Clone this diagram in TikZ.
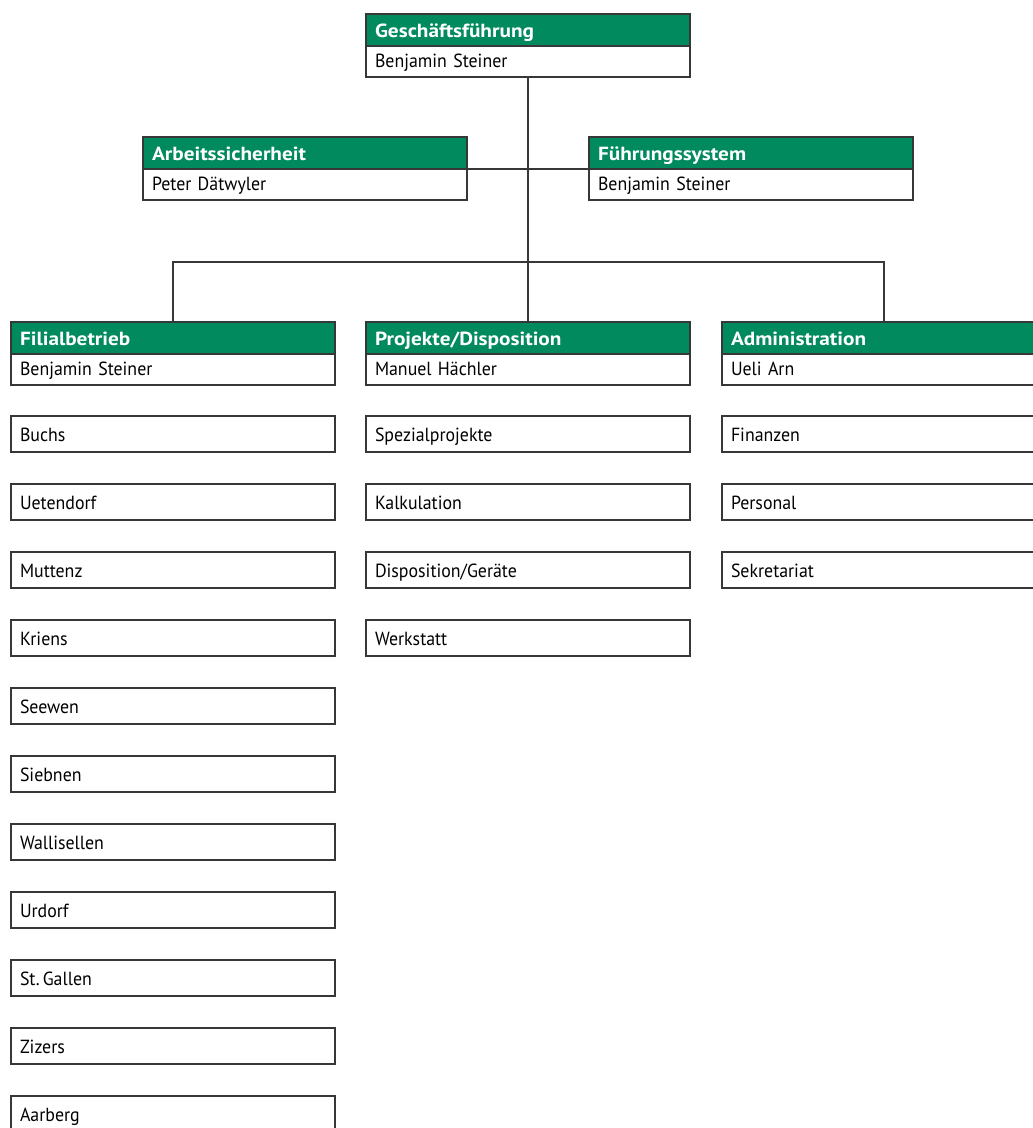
\documentclass[tikz,border=0pt]{standalone}
\usepackage{fontspec}
\setmainfont{PT Sans}[FakeStretch=0.94, BoldFeatures={FakeStretch=1.12}]
\usetikzlibrary{positioning}

\definecolor{orggreen}{RGB}{0,138,94}
\definecolor{orgline}{RGB}{55,55,55}

\tikzset{
  box/.style={draw=orgline, line width=1.2pt, outer sep=0pt, anchor=north west,
    minimum width=324pt, text width=306pt, inner xsep=9pt, inner ysep=0pt, align=left,
    font=\fontsize{19}{22}\selectfont},
  head/.style={box, fill=orggreen, text=white, font=\bfseries\fontsize{19}{22}\selectfont,
    minimum height=32pt, text height=17pt, text depth=3pt},
  person/.style={box, fill=white, anchor=north, minimum height=31pt, text height=15pt, text depth=4pt},
  unit/.style={box, fill=white, minimum height=36pt, text height=17pt, text depth=3pt},
  conn/.style={draw=orgline, line width=1.1pt},
}

\begin{document}
\begin{tikzpicture}[x=1pt,y=1pt]
    \clip (0,0) rectangle (1033,-1128);
    \fill[white] (0,0) rectangle (1033,-1128);

    % management
    \node[head] (gfhead) at (366,-14) {Geschäftsführung};
    \node[person, below=0pt of gfhead] (gfname) {Benjamin Steiner};

    % staff units
    \node[head] (ashead) at (143,-137) {Arbeitssicherheit};
    \node[person, below=0pt of ashead] (asname) {Peter Dätwyler};
    \node[head] (fshead) at (589,-137) {Führungssystem};
    \node[person, below=0pt of fshead] (fsname) {Benjamin Steiner};

    % departments
    \node[head] (filhead) at (11,-322) {Filialbetrieb};
    \node[person, below=0pt of filhead] (filname) {Benjamin Steiner};
    \node[head] (projhead) at (366,-322) {Projekte/Disposition};
    \node[person, below=0pt of projhead] (projname) {Manuel Hächler};
    \node[head] (admhead) at (722,-322) {Administration};
    \node[person, below=0pt of admhead] (admname) {Ueli Arn};

    % sub units
    \foreach \unitname [count=\i from 0] in {Buchs, Uetendorf, Muttenz, Kriens, Seewen,
        Siebnen, Wallisellen, Urdorf, St.\,Gallen, Zizers, Aarberg}
      \node[unit] (fil-\i) at (11,-416-68*\i) {\unitname};
    \foreach \unitname [count=\i from 0] in {Spezialprojekte, Kalkulation, Disposition/Geräte, Werkstatt}
      \node[unit] (proj-\i) at (366,-416-68*\i) {\unitname};
    \foreach \unitname [count=\i from 0] in {Finanzen, Personal, Sekretariat}
      \node[unit] (adm-\i) at (722,-416-68*\i) {\unitname};

    % connectors
    \coordinate (bar) at (528,-262);
    \draw[conn] (gfname.south) -- (projhead.north);
    \draw[conn] (ashead.south east) -- (fshead.south west);
    \draw[conn] (filhead.north) |- (bar) -| (admhead.north);
\end{tikzpicture}
\end{document}
